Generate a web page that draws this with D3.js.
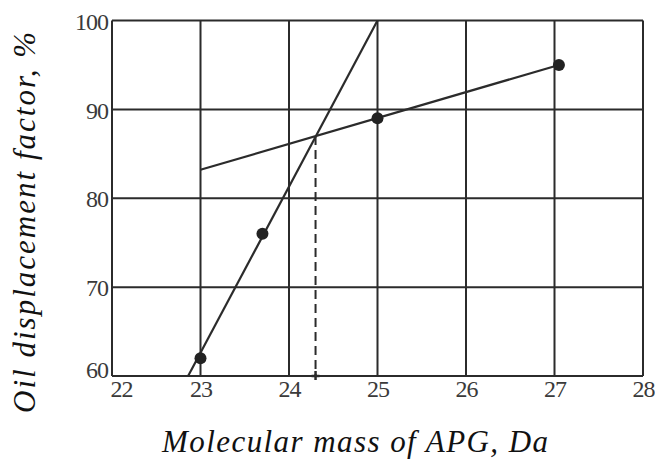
<!DOCTYPE html>
<html>
<head>
<meta charset="utf-8">
<script src="https://cdn.jsdelivr.net/npm/d3@7"></script>
<style>
  html, body { margin: 0; padding: 0; background: #fff; }
  svg { display: block; }
</style>
</head>
<body>
<svg id="chart" width="655" height="459"></svg>
<script>
// ---- data ----
const xTicks = [22, 23, 24, 25, 26, 27, 28];
const yTicks = [60, 70, 80, 90, 100];
const pointsX = [23, 23.7, 25, 27.05];
const pointsY = [62, 76, 89, 95];
const steepLineX = [22.86, 25];
const steepLineY = [60, 100];
const shallowLineX = [23, 27.05];
const shallowLineY = [83.2, 95];
const markerX = [24.3];
const markerY = [87];
const xTitle = "Molecular mass of APG, Da";
const yTitle = "Oil displacement factor, %";

// ---- layout ----
const svg = d3.select("#chart");
const plotLeft = 112, plotRight = 643, plotTop = 20.5, plotBottom = 376;
const x = d3.scaleLinear().domain([22, 28]).range([plotLeft, plotRight]);
const y = d3.scaleLinear().domain([60, 100]).range([plotBottom, plotTop]);
const ink = "#2b2b2b";
const serif = "'Liberation Serif', Tinos, 'Times New Roman', serif";

// gridlines
svg.append("g").selectAll("line").data(xTicks).join("line")
  .attr("x1", d => x(d)).attr("x2", d => x(d))
  .attr("y1", plotTop).attr("y2", plotBottom)
  .attr("stroke", ink).attr("stroke-width", 2);
svg.append("g").selectAll("line").data(yTicks).join("line")
  .attr("x1", plotLeft).attr("x2", plotRight)
  .attr("y1", d => y(d)).attr("y2", d => y(d))
  .attr("stroke", ink).attr("stroke-width", 2);

// axes (labels only)
const xAxis = d3.axisBottom(x).tickValues(xTicks).tickSize(0).tickPadding(0).tickFormat(d3.format("d"));
const gx = svg.append("g").attr("transform", `translate(0,${plotBottom})`).call(xAxis);
gx.select(".domain").remove();
gx.selectAll("text")
  .style("font-family", serif).style("font-size", "24px").attr("fill", "#3a3a3a")
  .style("letter-spacing", "-1px")
  .attr("dy", 21)
  .attr("text-anchor", (d, i) => i === 0 ? "start" : "middle")
  .attr("x", (d, i) => i === 0 ? -2 : 0);

const yAxis = d3.axisLeft(y).tickValues(yTicks).tickSize(0).tickPadding(4).tickFormat(d3.format("d"));
const gy = svg.append("g").attr("transform", `translate(${plotLeft},0)`).call(yAxis);
gy.select(".domain").remove();
gy.selectAll("text")
  .style("font-family", serif).style("font-size", "24px").attr("fill", "#3a3a3a")
  .style("letter-spacing", "-1px")
  .attr("dy", (d, i) => i === 0 ? "0.05em" : "0.36em");

// lines
const line = d3.line().x(d => x(d[0])).y(d => y(d[1]));
svg.append("path")
  .attr("d", line(steepLineX.map((v, i) => [v, steepLineY[i]])))
  .attr("fill", "none").attr("stroke", ink).attr("stroke-width", 2.2);
svg.append("path")
  .attr("d", line(shallowLineX.map((v, i) => [v, shallowLineY[i]])))
  .attr("fill", "none").attr("stroke", ink).attr("stroke-width", 2.2);

// dashed drop line
svg.append("line")
  .attr("x1", x(markerX[0])).attr("x2", x(markerX[0]))
  .attr("y1", y(markerY[0])).attr("y2", plotBottom)
  .attr("stroke", ink).attr("stroke-width", 2)
  .attr("stroke-dasharray", "9,5");
// small cross at bottom
svg.append("line")
  .attr("x1", x(markerX[0]) - 4).attr("x2", x(markerX[0]) + 4)
  .attr("y1", plotBottom).attr("y2", plotBottom)
  .attr("stroke", ink).attr("stroke-width", 2.5);
svg.append("line")
  .attr("x1", x(markerX[0])).attr("x2", x(markerX[0]))
  .attr("y1", plotBottom - 5).attr("y2", plotBottom + 4)
  .attr("stroke", ink).attr("stroke-width", 2.5);

// points
svg.append("g").selectAll("circle").data(pointsX).join("circle")
  .attr("cx", d => x(d)).attr("cy", (d, i) => y(pointsY[i]))
  .attr("r", 6).attr("fill", "#222");

// titles
svg.append("text")
  .attr("x", 162).attr("y", 452)
  .style("font-family", serif).style("font-style", "italic").style("font-size", "31px")
  .attr("fill", "#111")
  .attr("textLength", 386).attr("lengthAdjust", "spacing")
  .text(xTitle);
svg.append("text")
  .attr("transform", "translate(35,413) rotate(-90)")
  .style("font-family", serif).style("font-style", "italic").style("font-size", "31px")
  .attr("fill", "#111")
  .attr("textLength", 381).attr("lengthAdjust", "spacing")
  .text(yTitle);
</script>
</body>
</html>
